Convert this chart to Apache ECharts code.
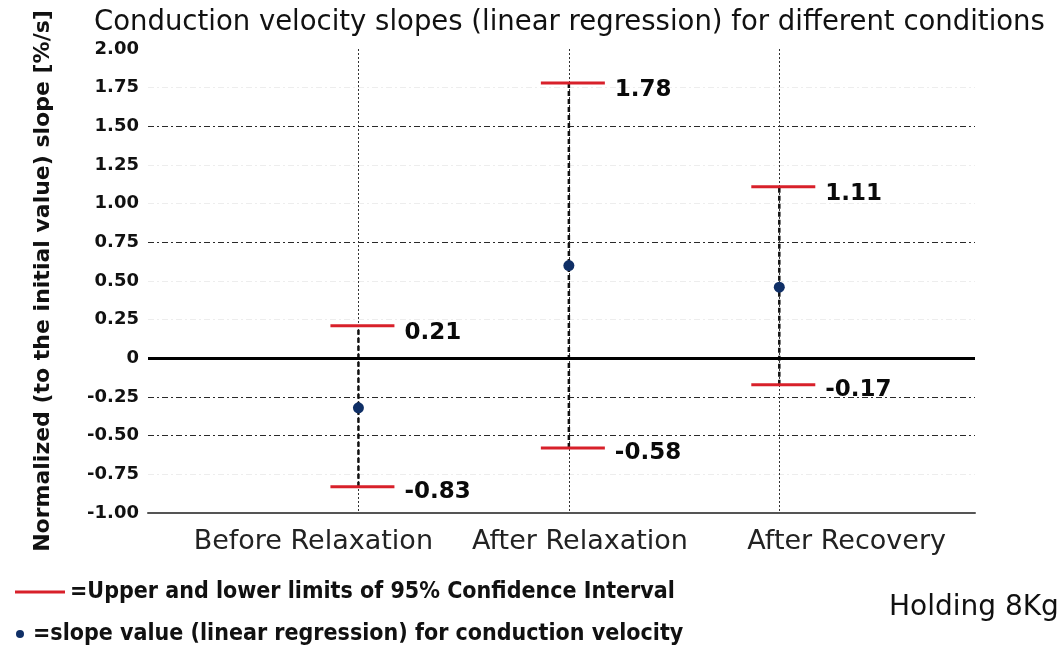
<!DOCTYPE html>
<html>
<head>
<meta charset="utf-8">
<script src="https://cdn.jsdelivr.net/npm/echarts@6/dist/echarts.min.js"></script>
<style>
  html, body { margin: 0; padding: 0; background: #fff; }
  #chart { width: 1064px; height: 649px; }
</style>
</head>
<body>
<div id="chart"></div>
<script>
// Conditions and the regression results for each one
const categories = ['Before Relaxation', 'After Relaxation', 'After Recovery'];
const slopeValues = [-0.32, 0.60, 0.46];
const upperLimits = [0.21, 1.78, 1.11];
const lowerLimits = [-0.83, -0.58, -0.17];

const titleText = 'Conduction velocity slopes (linear regression) for different conditions';
const yAxisTitle = 'Normalized (to the initial value) slope [%/s]';
const ciLegendText = '=Upper and lower limits of 95% Confidence Interval';
const slopeLegendText = '=slope value (linear regression) for conduction velocity';
const noteText = 'Holding 8Kg';

const RED = '#d8202a';
const NAVY = '#0f2f66';
const GRID_DARK = '#2a2a2a';
const GRID_FAINT = '#ededed';

// each condition sits at position 1, 2, 3 on the hidden value x axis
const xPos = categories.map((c, i) => i + 1);

const chart = echarts.init(document.getElementById('chart'));

chart.setOption({
  backgroundColor: '#ffffff',
  animation: false,
  title: {
    text: titleText,
    left: 89,
    top: 4,
    textStyle: { fontFamily: 'DejaVu Sans', fontSize: 27.5, fontWeight: 'normal', color: '#111' }
  },
  grid: [
    { left: 148, right: 89, top: 49, bottom: 136 },
    { left: 180, right: 84, top: 49, bottom: 136 }
  ],
  xAxis: [
    {
      type: 'value',
      gridIndex: 0,
      min: 0,
      max: 3.93,
      interval: 1,
      axisLine: { show: true, onZero: false, lineStyle: { color: '#555', width: 2 } },
      axisTick: { show: false },
      axisLabel: { show: false },
      splitLine: {
        show: true,
        showMinLine: false,
        showMaxLine: false,
        lineStyle: { color: '#333', width: 1, type: [2, 2] }
      }
    },
    {
      type: 'category',
      gridIndex: 1,
      data: categories,
      axisLine: { show: false },
      axisTick: { show: false },
      axisLabel: {
        interval: 0,
        margin: 15,
        fontFamily: 'DejaVu Sans',
        fontSize: 27,
        color: '#222'
      },
      splitLine: { show: false }
    }
  ],
  yAxis: [
    {
      type: 'value',
      gridIndex: 0,
      min: -1,
      max: 2,
      interval: 0.25,
      name: yAxisTitle,
      nameLocation: 'middle',
      nameGap: 94,
      nameRotate: 90,
      nameTextStyle: { fontFamily: 'DejaVu Sans', fontWeight: 'bold', fontSize: 22, color: '#111' },
      axisLine: { show: false },
      axisTick: { show: false },
      axisLabel: {
        margin: 9,
        fontFamily: 'DejaVu Sans',
        fontWeight: 'bold',
        fontSize: 18,
        color: '#111',
        formatter: v => (v === 0 ? '0' : v.toFixed(2))
      },
      splitLine: {
        show: true,
        showMinLine: false,
        showMaxLine: false,
        lineStyle: {
          type: [6, 3, 2, 3],
          width: 1,
          // -0.75 .. 1.75
          color: [GRID_FAINT, GRID_DARK, GRID_DARK, GRID_FAINT, GRID_FAINT, GRID_FAINT,
                  GRID_DARK, GRID_FAINT, GRID_FAINT, GRID_DARK, GRID_FAINT]
        }
      }
    },
    { type: 'value', gridIndex: 1, show: false, min: -1, max: 2 }
  ],
  series: [
    {
      // dashed span between the lower and upper confidence limits
      type: 'custom',
      name: 'interval',
      xAxisIndex: 0,
      yAxisIndex: 0,
      data: xPos.map((x, i) => [x, lowerLimits[i], upperLimits[i]]),
      renderItem: (params, api) => {
        const lo = api.coord([api.value(0), api.value(1)]);
        const hi = api.coord([api.value(0), api.value(2)]);
        return {
          type: 'line',
          shape: { x1: lo[0], y1: lo[1], x2: hi[0], y2: hi[1] },
          style: { stroke: '#111', lineWidth: 2.5, lineDash: [5, 3] },
          silent: true
        };
      },
      z: 3,
      markLine: {
        silent: true,
        symbol: 'none',
        label: { show: false },
        lineStyle: { color: '#000', width: 3, type: 'solid' },
        data: [{ yAxis: 0 }]
      }
    },
    {
      type: 'scatter',
      name: 'upper',
      xAxisIndex: 0,
      yAxisIndex: 0,
      data: xPos.map((x, i) => [x, upperLimits[i]]),
      symbol: 'rect',
      symbolSize: [64, 3],
      symbolOffset: [4, 0],
      itemStyle: { color: RED, opacity: 1 },
      z: 4,
      label: {
        show: true,
        position: 'right',
        distance: 10,
        offset: [0, 7],
        formatter: p => p.value[1].toFixed(2),
        fontFamily: 'DejaVu Sans',
        fontWeight: 'bold',
        fontSize: 23,
        color: '#0a0a0a'
      }
    },
    {
      type: 'scatter',
      name: 'lower',
      xAxisIndex: 0,
      yAxisIndex: 0,
      data: xPos.map((x, i) => [x, lowerLimits[i]]),
      symbol: 'rect',
      symbolSize: [64, 3],
      symbolOffset: [4, 0],
      itemStyle: { color: RED, opacity: 1 },
      z: 4,
      label: {
        show: true,
        position: 'right',
        distance: 10,
        offset: [0, 5],
        formatter: p => p.value[1].toFixed(2),
        fontFamily: 'DejaVu Sans',
        fontWeight: 'bold',
        fontSize: 23,
        color: '#0a0a0a'
      }
    },
    {
      type: 'scatter',
      name: 'slope',
      xAxisIndex: 0,
      yAxisIndex: 0,
      data: xPos.map((x, i) => [x, slopeValues[i]]),
      symbol: 'circle',
      symbolSize: 11,
      itemStyle: { color: NAVY, opacity: 1 },
      z: 5
    }
  ],
  graphic: [
    {
      type: 'line',
      shape: { x1: 15, y1: 592, x2: 65, y2: 592 },
      style: { stroke: RED, lineWidth: 3 }
    },
    {
      type: 'text',
      x: 70,
      y: 592,
      style: {
        text: ciLegendText,
        fontFamily: "'Liberation Sans Narrow', 'DejaVu Sans Condensed', sans-serif",
        fontWeight: 'bold',
        fontSize: 23,
        fill: '#111',
        verticalAlign: 'middle'
      }
    },
    {
      type: 'circle',
      shape: { cx: 20, cy: 634, r: 4 },
      style: { fill: NAVY }
    },
    {
      type: 'text',
      x: 33,
      y: 634,
      style: {
        text: slopeLegendText,
        fontFamily: "'Liberation Sans Narrow', 'DejaVu Sans Condensed', sans-serif",
        fontWeight: 'bold',
        fontSize: 23,
        fill: '#111',
        verticalAlign: 'middle'
      }
    },
    {
      type: 'text',
      x: 889,
      y: 608,
      style: {
        text: noteText,
        fontFamily: 'DejaVu Sans',
        fontSize: 28,
        fill: '#111',
        verticalAlign: 'middle'
      }
    }
  ]
});
</script>
</body>
</html>
